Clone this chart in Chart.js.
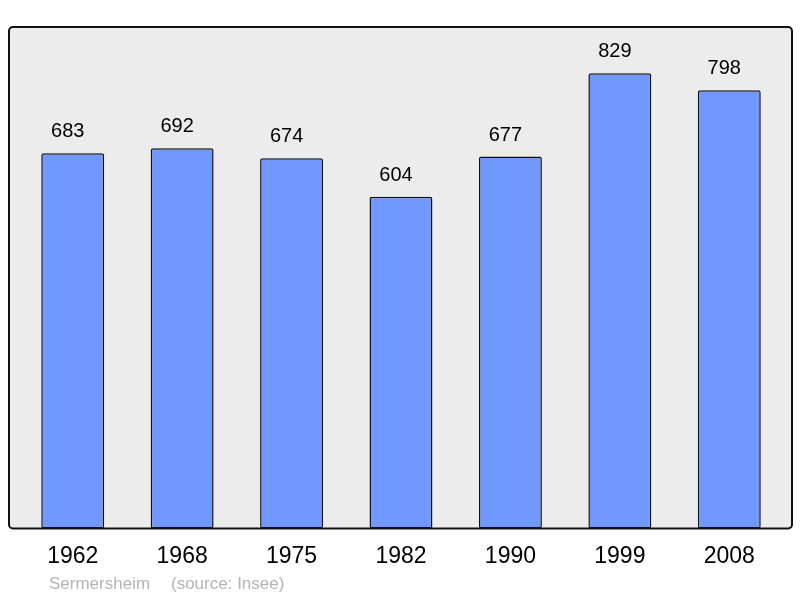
<!DOCTYPE html>
<html>
<head>
<meta charset="utf-8">
<script src="https://cdn.jsdelivr.net/npm/chart.js@4/dist/chart.umd.min.js"></script>
<style>
  html, body { margin: 0; padding: 0; background: #fff; }
  #wrap { width: 800px; height: 598px; }
</style>
</head>
<body>
<div id="wrap"><canvas id="pop"></canvas></div>
<script>
const years = ["1962", "1968", "1975", "1982", "1990", "1999", "2008"];
const population = [683, 692, 674, 604, 677, 829, 798];
const townName = "Sermersheim";
const sourceText = "(source: Insee)";

// grey frame behind the bars, outline drawn on top
const frame = {
  id: "frame",
  beforeDraw(chart) {
    const ctx = chart.ctx;
    const a = chart.chartArea;
    ctx.save();
    ctx.beginPath();
    ctx.roundRect(9, a.top, 783, a.bottom - a.top, 4);
    ctx.fillStyle = "#ececec";
    ctx.fill();
    ctx.restore();
  },
  afterDatasetsDraw(chart) {
    const ctx = chart.ctx;
    const a = chart.chartArea;
    ctx.save();
    ctx.beginPath();
    ctx.roundRect(9, a.top, 783, a.bottom - a.top, 4);
    ctx.lineWidth = 2;
    ctx.strokeStyle = "#111";
    ctx.stroke();

    // values above bars (sit a little left of centre in the original)
    ctx.font = "20px 'Liberation Sans', Arial, sans-serif";
    ctx.fillStyle = "#000";
    ctx.textAlign = "center";
    ctx.textBaseline = "middle";
    chart.getDatasetMeta(0).data.forEach((bar, i) => {
      ctx.fillText(String(population[i]), bar.x - 5, bar.y - 21.5);
    });

    // source line
    ctx.font = "17px 'Liberation Sans', Arial, sans-serif";
    ctx.fillStyle = "#b4b4b4";
    ctx.textAlign = "left";
    ctx.fillText(townName, 49, 584);
    ctx.fillText(sourceText, 171, 584);
    ctx.restore();
  }
};

new Chart(document.getElementById("pop"), {
  type: "bar",
  data: {
    labels: years,
    datasets: [{
      data: population,
      backgroundColor: "#7098ff",
      borderColor: "#111",
      borderWidth: 1.5,
      borderRadius: 2,
      borderSkipped: false,
      barPercentage: 0.575,
      categoryPercentage: 1
    }]
  },
  options: {
    responsive: true,
    maintainAspectRatio: false,
    animation: false,
    layout: { padding: { left: 18, right: 16, top: 27, bottom: 14 } },
    plugins: { legend: { display: false }, tooltip: { enabled: false } },
    scales: {
      x: {
        grid: { display: false, drawTicks: false },
        border: { display: false },
        ticks: {
          color: "#000",
          padding: 14,
          font: { size: 23, family: "'Liberation Sans', Arial, sans-serif" }
        }
      },
      y: {
        display: false,
        min: 0,
        max: 913
      }
    }
  },
  plugins: [frame]
});
</script>
</body>
</html>
